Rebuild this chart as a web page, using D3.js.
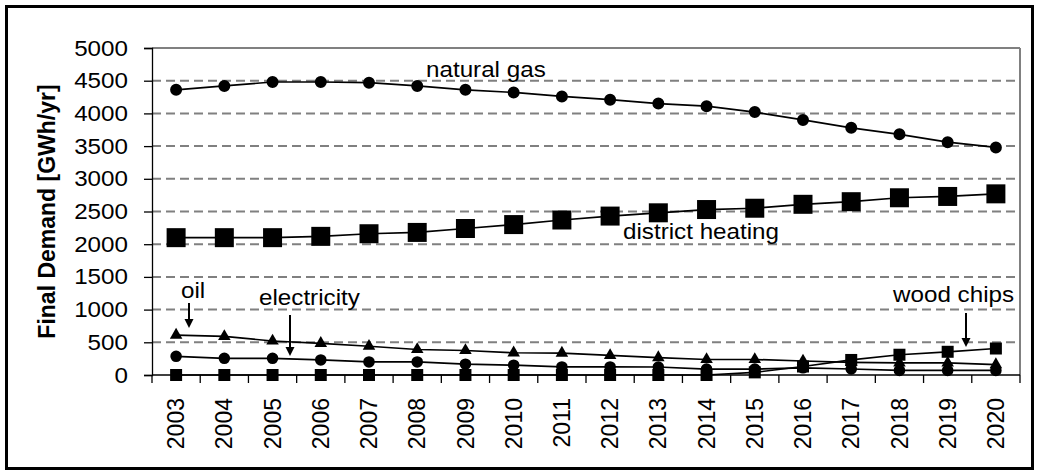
<!DOCTYPE html>
<html>
<head>
<meta charset="utf-8">
<script src="https://cdn.jsdelivr.net/npm/d3@7"></script>
<style>
  body { margin: 0; background: #fff; }
  text { font-family: "Liberation Sans", Arial, sans-serif; fill: #000; }
</style>
</head>
<body>
<div id="chart"></div>
<script>
// years on the x axis
const years = ['2003', '2004', '2005', '2006', '2007', '2008', '2009', '2010', '2011',
  '2012', '2013', '2014', '2015', '2016', '2017', '2018', '2019', '2020']

// final demand per carrier, GWh/yr
const naturalGas = [4360, 4420, 4480, 4480, 4470, 4420, 4360, 4320, 4260, 4210, 4150, 4110, 4020, 3900, 3780, 3680, 3560, 3480]
const districtHeating = [2100, 2100, 2100, 2120, 2160, 2180, 2240, 2300, 2370, 2430, 2480, 2530, 2550, 2610, 2650, 2710, 2730, 2770]
const oil = [610, 590, 520, 485, 440, 390, 375, 340, 335, 300, 266, 237, 237, 214, 194, 185, 184, 160]
const electricity = [286, 255, 255, 230, 200, 200, 165, 150, 123, 123, 122, 90, 90, 110, 92, 70, 70, 70]
const woodChips = [0, 0, 0, 0, 0, 0, 0, 0, 0, 0, 0, 0, 40, 130, 230, 310, 355, 405]

const yTicks = [0, 500, 1000, 1500, 2000, 2500, 3000, 3500, 4000, 4500, 5000]

const W = 1039
const H = 475
const margin = { top: 48, right: 19, bottom: 100, left: 152 }

const svg = d3.select('#chart')
  .append('svg')
  .attr('width', W)
  .attr('height', H)

const x = d3.scaleBand()
  .domain(years)
  .range([margin.left, W - margin.right])
  .padding(0)

const y = d3.scaleLinear()
  .domain([0, 5000])
  .range([H - margin.bottom, margin.top])

// outer frame
svg.append('rect')
  .attr('x', 6.5)
  .attr('y', 6.5)
  .attr('width', 1026)
  .attr('height', 462)
  .attr('fill', 'none')
  .attr('stroke', '#000')
  .attr('stroke-width', 3)

// gridlines
svg.append('g')
  .selectAll('line')
  .data(yTicks.filter(d => d > 0))
  .join('line')
  .attr('x1', margin.left)
  .attr('x2', W - margin.right)
  .attr('y1', d => y(d))
  .attr('y2', d => y(d))
  .attr('stroke', '#808080')
  .attr('stroke-width', 2)
  .attr('stroke-dasharray', d => d === 5000 ? null : '9,5')

// right edge of the plot area
svg.append('line')
  .attr('x1', W - margin.right)
  .attr('x2', W - margin.right)
  .attr('y1', y(5000))
  .attr('y2', y(0))
  .attr('stroke', '#808080')
  .attr('stroke-width', 2)

// y axis
const yAxis = svg.append('g')
  .attr('transform', 'translate(' + margin.left + ',0)')
  .call(d3.axisLeft(y).tickValues(yTicks).tickSize(8).tickPadding(16).tickFormat(d3.format('d')))
yAxis.select('.domain').attr('stroke', '#000').attr('stroke-width', 1.3)
yAxis.selectAll('.tick line').attr('stroke', '#000').attr('stroke-width', 1.3)
yAxis.selectAll('text')
  .attr('font-size', 22)
  .attr('font-family', '"Liberation Sans", Arial, sans-serif')
  .attr('fill', '#000')

// x axis: labels at band centres, ticks at band edges
const xAxis = svg.append('g')
  .attr('transform', 'translate(0,' + y(0) + ')')
xAxis.append('line')
  .attr('x1', margin.left)
  .attr('x2', W - margin.right)
  .attr('stroke', '#000')
  .attr('stroke-width', 1.3)
xAxis.selectAll('.edge')
  .data(years.concat(['end']))
  .join('line')
  .attr('class', 'edge')
  .attr('x1', (d, i) => margin.left + i * x.bandwidth())
  .attr('x2', (d, i) => margin.left + i * x.bandwidth())
  .attr('y1', 0)
  .attr('y2', 8)
  .attr('stroke', '#000')
  .attr('stroke-width', 1.3)
xAxis.selectAll('.lab')
  .data(years)
  .join('text')
  .attr('class', 'lab')
  .attr('transform', d => 'translate(' + (x(d) + x.bandwidth() / 2) + ',23) rotate(-90)')
  .attr('dy', '0.35em')
  .attr('text-anchor', 'end')
  .attr('font-size', 23)
  .text(d => d)

// y axis title
svg.append('text')
  .attr('transform', 'translate(55,' + (y(0) + y(5000)) / 2 + ') rotate(-90)')
  .attr('text-anchor', 'middle')
  .attr('font-size', 23)
  .attr('font-weight', 'bold')
  .text('Final Demand [GWh/yr]')

// series
const series = [
  { name: 'natural gas', values: naturalGas, symbol: d3.symbolCircle, size: 113 },
  { name: 'district heating', values: districtHeating, symbol: d3.symbolSquare, size: 361 },
  { name: 'oil', values: oil, symbol: d3.symbolTriangle, size: 68 },
  { name: 'electricity', values: electricity, symbol: d3.symbolCircle, size: 105 },
  { name: 'wood chips', values: woodChips, symbol: d3.symbolSquare, size: 144 }
]

const line = d3.line()
  .x((d, i) => x(years[i]) + x.bandwidth() / 2)
  .y(d => y(d))

series.forEach(s => {
  const g = svg.append('g')
  g.append('path')
    .datum(s.values)
    .attr('d', line)
    .attr('fill', 'none')
    .attr('stroke', '#000')
    .attr('stroke-width', 1.7)
  g.selectAll('path.m')
    .data(s.values)
    .join('path')
    .attr('class', 'm')
    .attr('d', d3.symbol().type(s.symbol).size(s.size))
    .attr('transform', (d, i) => 'translate(' + (x(years[i]) + x.bandwidth() / 2) + ',' + y(d) + ')')
    .attr('fill', '#000')
})

// annotations
const notes = [
  { text: 'natural gas', x: 426, y: 77 },
  { text: 'district heating', x: 623, y: 239 },
  { text: 'oil', x: 181, y: 298 },
  { text: 'electricity', x: 259, y: 305 },
  { text: 'wood chips', x: 893, y: 302 }
]
svg.selectAll('.note')
  .data(notes)
  .join('text')
  .attr('class', 'note')
  .attr('x', d => d.x)
  .attr('y', d => d.y)
  .attr('font-size', 22)
  .text(d => d.text)

// stretch horizontal text a little, the original is slightly wide
svg.selectAll('.note, .tick text').each(function () {
  const len = this.getComputedTextLength()
  d3.select(this)
    .attr('textLength', len * 1.1)
    .attr('lengthAdjust', 'spacingAndGlyphs')
})

const arrows = [
  { x: 189, y1: 303, y2: 328 },
  { x: 290, y1: 315, y2: 356 },
  { x: 966, y1: 313, y2: 347 }
]
arrows.forEach(a => {
  svg.append('line')
    .attr('x1', a.x)
    .attr('x2', a.x)
    .attr('y1', a.y1)
    .attr('y2', a.y2 - 6)
    .attr('stroke', '#000')
    .attr('stroke-width', 2)
  svg.append('path')
    .attr('d', 'M' + (a.x - 4.5) + ',' + (a.y2 - 9) + 'L' + (a.x + 4.5) + ',' + (a.y2 - 9) + 'L' + a.x + ',' + a.y2 + 'Z')
    .attr('fill', '#000')
})
</script>
</body>
</html>
